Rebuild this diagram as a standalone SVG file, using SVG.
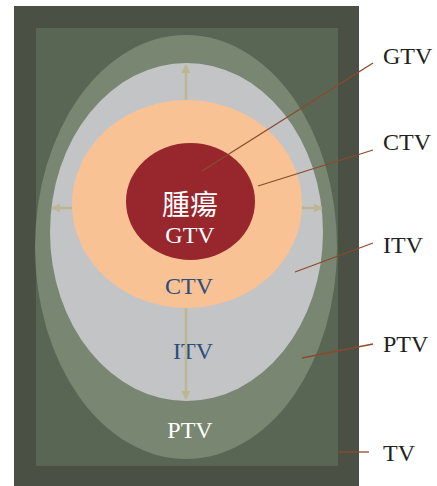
<svg xmlns="http://www.w3.org/2000/svg" width="437" height="486" viewBox="0 0 437 486">
<style>
.lbl{font-family:"Liberation Serif","Times New Roman",serif;font-size:24px;fill:#231f20}
.in{font-family:"Liberation Serif","Times New Roman",serif;font-size:24px;text-anchor:middle}
.lead{stroke:#8b4a2b;stroke-width:1.3;fill:none}
.arr{stroke:#bdb693;stroke-width:2.6;fill:none}
</style>
<defs>
<marker id="ah" viewBox="0 0 10 10" refX="9" refY="5" markerWidth="3.4" markerHeight="3.4" orient="auto" markerUnits="strokeWidth">
<path d="M0,0 L10,5 L0,10 Z" fill="#bdb693"/>
</marker>
</defs>
<g id="TV">
<rect x="14" y="6" width="345" height="480" fill="#4a5044"/>
<rect x="36" y="28" width="302" height="438" fill="#5a6654"/>
</g>
<g id="PTV">
<ellipse cx="186" cy="247" rx="151" ry="212" fill="#798672"/>
<text class="in" x="190" y="438" fill="#ffffff">PTV</text>
</g>
<g id="ITV">
<ellipse cx="186.5" cy="232" rx="136.5" ry="169" fill="#c3c4c6"/>
</g>
<g id="CTV">
<ellipse cx="187" cy="204" rx="115" ry="104" fill="#f8c295"/>
<text class="in" x="189" y="294" fill="#2d4d7c">CTV</text>
</g>
<g id="GTV">
<ellipse cx="190.5" cy="201.5" rx="64.5" ry="58.5" fill="#98262d"/>
<text x="190" y="215" fill="#ffffff" text-anchor="middle" style="font-family:'Liberation Serif','Noto Sans CJK TC',serif;font-size:28px">腫瘍</text>
<text class="in" x="190" y="243" fill="#ffffff">GTV</text>
</g>
<g id="ITV-label">
<text class="in" x="193" y="359" fill="#2d4d7c">ITV</text>
</g>
<g id="connectors">
<line class="arr" x1="186" y1="100" x2="186" y2="65" marker-end="url(#ah)"/>
<line class="arr" x1="186" y1="308" x2="186" y2="399" marker-end="url(#ah)"/>
<line class="arr" x1="72" y1="208" x2="52" y2="208" marker-end="url(#ah)"/>
<line class="arr" x1="302" y1="208" x2="322" y2="208" marker-end="url(#ah)"/>
<line class="lead" x1="373" y1="63" x2="202" y2="171"/>
<line class="lead" x1="373" y1="150" x2="258" y2="186"/>
<line class="lead" x1="373" y1="243" x2="295" y2="272"/>
<line class="lead" x1="373" y1="344" x2="302" y2="358"/>
<line class="lead" x1="369" y1="452" x2="338" y2="452"/>
</g>
<g id="labels">
<text class="lbl" x="383" y="64">GTV</text>
<text class="lbl" x="383" y="150">CTV</text>
<text class="lbl" x="383" y="253">ITV</text>
<text class="lbl" x="383" y="352">PTV</text>
<text class="lbl" x="383" y="461">TV</text>
</g>
</svg>
